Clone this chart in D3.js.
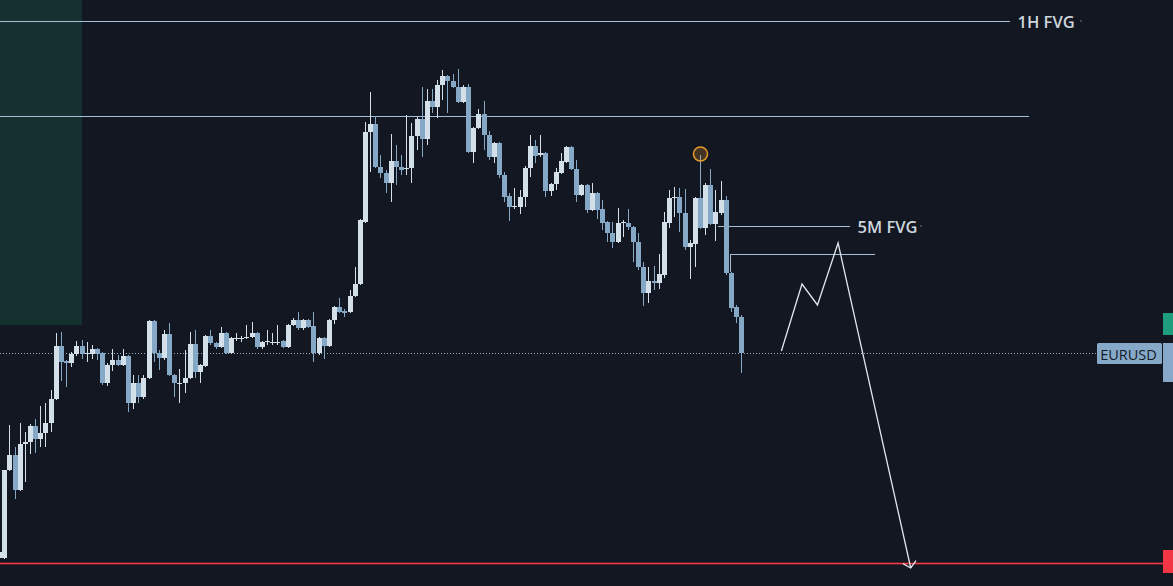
<!DOCTYPE html>
<html><head><meta charset="utf-8">
<script src="https://cdn.jsdelivr.net/npm/d3@7/dist/d3.min.js"></script>
<style>html,body{margin:0;padding:0;background:#131722;overflow:hidden}svg{display:block}</style>
</head><body><svg id="chart" width="1173" height="586"></svg>
<script>
// ---------- data (EURUSD candles) ----------
const opens = [
1.08442,1.08442,1.08530,1.08545,1.08510,1.08556,1.08558,1.08574,1.08561,1.08567,
1.08577,1.08601,1.08654,1.08639,1.08637,1.08646,1.08654,1.08647,1.08646,1.08651,
1.08647,1.08617,1.08635,1.08640,1.08635,1.08644,1.08597,1.08617,1.08603,1.08622,
1.08679,1.08647,1.08642,1.08666,1.08625,1.08617,1.08617,1.08622,1.08656,1.08628,
1.08634,1.08664,1.08657,1.08653,1.08667,1.08647,1.08662,1.08662,1.08662,1.08663,
1.08667,1.08653,1.08659,1.08658,1.08658,1.08659,1.08653,1.08675,1.08680,1.08672,
1.08680,1.08674,1.08647,1.08662,1.08654,1.08680,1.08693,1.08689,1.08688,1.08704,
1.08716,1.08778,1.08868,1.08876,1.08833,1.08827,1.08817,1.08839,1.08833,1.08831,
1.08832,1.08864,1.08881,1.08861,1.08899,1.08893,1.08915,1.08924,1.08919,1.08913,
1.08898,1.08913,1.08848,1.08872,1.08886,1.08865,1.08843,1.08857,1.08825,1.08804,
1.08793,1.08793,1.08803,1.08832,1.08854,1.08845,1.08847,1.08809,1.08816,1.08827,
1.08838,1.08853,1.08831,1.08805,1.08815,1.08790,1.08807,1.08791,1.08778,1.08767,
1.08758,1.08777,1.08777,1.08773,1.08758,1.08733,1.08707,1.08719,1.08717,1.08725,
1.08777,1.08802,1.08803,1.08787,1.08753,1.08756,1.08802,1.08772,1.08815,1.08776,
1.08787,1.08800,1.08727,1.08693,1.08683];
const highs = [
1.08450,1.08530,1.08575,1.08553,1.08577,1.08568,1.08576,1.08581,1.08594,1.08597,
1.08610,1.08667,1.08668,1.08640,1.08648,1.08659,1.08660,1.08658,1.08655,1.08652,
1.08648,1.08637,1.08651,1.08645,1.08651,1.08645,1.08625,1.08625,1.08625,1.08680,
1.08680,1.08650,1.08670,1.08677,1.08626,1.08631,1.08650,1.08668,1.08670,1.08636,
1.08665,1.08670,1.08658,1.08673,1.08668,1.08663,1.08667,1.08664,1.08675,1.08678,
1.08668,1.08659,1.08670,1.08667,1.08675,1.08660,1.08676,1.08682,1.08688,1.08681,
1.08681,1.08688,1.08663,1.08663,1.08681,1.08694,1.08702,1.08691,1.08710,1.08733,
1.08781,1.08878,1.08908,1.08884,1.08845,1.08830,1.08866,1.08855,1.08845,1.08885,
1.08877,1.08883,1.08913,1.08911,1.08911,1.08920,1.08930,1.08925,1.08926,1.08931,
1.08915,1.08916,1.08873,1.08891,1.08899,1.08869,1.08858,1.08858,1.08828,1.08807,
1.08812,1.08810,1.08834,1.08865,1.08860,1.08865,1.08848,1.08817,1.08832,1.08847,
1.08854,1.08854,1.08840,1.08816,1.08816,1.08817,1.08808,1.08800,1.08779,1.08778,
1.08792,1.08780,1.08791,1.08774,1.08767,1.08738,1.08733,1.08734,1.08746,1.08788,
1.08810,1.08813,1.08812,1.08811,1.08760,1.08803,1.08845,1.08817,1.08831,1.08810,
1.08819,1.08804,1.08728,1.08695,1.08685];
const lows = [
1.08440,1.08441,1.08529,1.08501,1.08509,1.08518,1.08546,1.08547,1.08553,1.08553,
1.08568,1.08600,1.08619,1.08613,1.08633,1.08644,1.08641,1.08638,1.08641,1.08640,
1.08615,1.08614,1.08629,1.08634,1.08634,1.08588,1.08591,1.08597,1.08601,1.08621,
1.08638,1.08630,1.08640,1.08624,1.08603,1.08597,1.08607,1.08621,1.08622,1.08617,
1.08633,1.08655,1.08651,1.08652,1.08646,1.08646,1.08659,1.08658,1.08661,1.08662,
1.08651,1.08651,1.08655,1.08655,1.08655,1.08652,1.08652,1.08674,1.08670,1.08670,
1.08672,1.08638,1.08645,1.08641,1.08653,1.08676,1.08687,1.08683,1.08687,1.08703,
1.08715,1.08777,1.08828,1.08832,1.08822,1.08807,1.08798,1.08815,1.08825,1.08825,
1.08817,1.08850,1.08843,1.08855,1.08887,1.08882,1.08900,1.08887,1.08912,1.08897,
1.08897,1.08847,1.08837,1.08871,1.08850,1.08840,1.08837,1.08822,1.08798,1.08779,
1.08791,1.08786,1.08793,1.08823,1.08837,1.08843,1.08803,1.08804,1.08810,1.08826,
1.08837,1.08830,1.08798,1.08804,1.08787,1.08789,1.08781,1.08770,1.08758,1.08752,
1.08757,1.08763,1.08770,1.08738,1.08730,1.08694,1.08697,1.08710,1.08711,1.08722,
1.08772,1.08783,1.08768,1.08750,1.08721,1.08733,1.08771,1.08765,1.08775,1.08759,
1.08785,1.08725,1.08688,1.08677,1.08627];
const closes = [
1.08448,1.08530,1.08545,1.08510,1.08556,1.08558,1.08574,1.08561,1.08567,1.08577,
1.08601,1.08654,1.08638,1.08637,1.08646,1.08654,1.08646,1.08647,1.08651,1.08646,
1.08617,1.08635,1.08640,1.08635,1.08644,1.08597,1.08617,1.08603,1.08622,1.08679,
1.08647,1.08642,1.08666,1.08625,1.08617,1.08617,1.08622,1.08656,1.08628,1.08635,
1.08664,1.08657,1.08653,1.08667,1.08647,1.08662,1.08662,1.08662,1.08663,1.08667,
1.08653,1.08658,1.08659,1.08658,1.08658,1.08653,1.08675,1.08680,1.08672,1.08680,
1.08673,1.08647,1.08662,1.08654,1.08680,1.08693,1.08688,1.08687,1.08704,1.08716,
1.08780,1.08868,1.08876,1.08833,1.08827,1.08817,1.08839,1.08833,1.08830,1.08832,
1.08864,1.08881,1.08861,1.08899,1.08893,1.08915,1.08924,1.08919,1.08913,1.08898,
1.08913,1.08848,1.08872,1.08886,1.08865,1.08843,1.08857,1.08825,1.08803,1.08793,
1.08794,1.08803,1.08832,1.08854,1.08844,1.08847,1.08809,1.08816,1.08828,1.08839,
1.08853,1.08831,1.08805,1.08815,1.08790,1.08807,1.08790,1.08777,1.08767,1.08758,
1.08777,1.08778,1.08773,1.08758,1.08733,1.08707,1.08719,1.08717,1.08726,1.08778,
1.08802,1.08803,1.08787,1.08753,1.08757,1.08802,1.08772,1.08815,1.08776,1.08788,
1.08800,1.08727,1.08692,1.08683,1.08647];

const symbol = "EURUSD";
const lastPrice = 1.08647;
const levelLabels = ["1H FVG", "", "5M FVG", ""];
const levelPrices = [1.08979, 1.08884, 1.08774, 1.08746];
const targetPrice = 1.08437;
const zoneTop = 1.09000, zoneBottom = 1.08675, zoneEndIndex = 16;
const swingHighIndex = 136, swingHighPrice = 1.08846;
const projIndex = [151.7, 155.7, 158.7, 162.7, 176.8];
const projPrice = [1.08649, 1.08716, 1.08695, 1.08757, 1.08432];

// ---------- layout ----------
const W = 1173, H = 586;
const svg = d3.select("#chart");
const x = d3.scaleLinear().domain([0, 144]).range([-0.45, 741.7]);
const y = d3.scaleLinear().domain([1.08414, 1.09000]).range([H, 0]);
const BULL = "#d3e0e9", BEAR = "#86a8c7", LINE = "#a6bed6";

svg.append("rect").attr("width", W).attr("height", H).attr("fill", "#131722");

// teal zone
svg.append("rect").attr("x", 0).attr("y", y(zoneTop))
  .attr("width", x(zoneEndIndex)).attr("height", y(zoneBottom) - y(zoneTop))
  .attr("fill", "#15312f");

// horizontal levels
const levelEnds = [1010, 1029, 850, 875];
const levelStarts = [0, 0, 718, 730];
levelPrices.forEach((p, i) => {
  const yy = Math.round(y(p)) + 0.5;
  svg.append("line").attr("x1", levelStarts[i]).attr("x2", levelEnds[i])
    .attr("y1", yy).attr("y2", yy).attr("stroke", LINE).attr("stroke-width", 1);
  if (levelLabels[i]) {
    svg.append("text").attr("x", levelEnds[i] + 7.5).attr("y", yy)
      .attr("dominant-baseline", "central")
      .attr("font-family", "'Open Sans', sans-serif").attr("font-weight", 600)
      .attr("font-size", 16.5).attr("fill", "#cdd5dd").text(levelLabels[i]);
  }
});
// vertical tick of lower 5M FVG line
svg.append("line").attr("x1", 730.5).attr("x2", 730.5)
  .attr("y1", Math.round(y(levelPrices[3]))).attr("y2", 272)
  .attr("stroke", LINE).attr("stroke-width", 1);
// small handles after labels
[[1081, y(levelPrices[0])], [921, y(levelPrices[2])]].forEach(d => {
  svg.append("circle").attr("cx", d[0]).attr("cy", d[1]).attr("r", 1).attr("fill", "#4b5563");
});

// current price dotted line
const ly = Math.round(y(lastPrice)) + 0.5;
svg.append("line").attr("x1", 0).attr("x2", 1097).attr("y1", ly).attr("y2", ly)
  .attr("stroke", "#9db3c8").attr("stroke-width", 1).attr("stroke-dasharray", "1,2");

// target red line
const ty = Math.round(y(targetPrice)) + 0.5;
svg.append("line").attr("x1", 0).attr("x2", 1163).attr("y1", ty).attr("y2", ty)
  .attr("stroke", "#5c1c26").attr("stroke-width", 3);
svg.append("line").attr("x1", 0).attr("x2", 1163).attr("y1", ty).attr("y2", ty)
  .attr("stroke", "#f0404d").attr("stroke-width", 1);

// candles
const idx = d3.range(opens.length);
const g = svg.append("g").attr("shape-rendering", "crispEdges");
idx.forEach(i => {
  const up = closes[i] >= opens[i];
  const col = up ? BULL : BEAR;
  const left = Math.round(x(i) - 2.5);
  g.append("line").attr("x1", left + 2.5).attr("x2", left + 2.5)
    .attr("y1", y(highs[i])).attr("y2", y(lows[i])).attr("stroke", col).attr("stroke-width", 1);
  const top = Math.min(y(opens[i]), y(closes[i]));
  const h = Math.max(1, Math.abs(y(opens[i]) - y(closes[i])));
  g.append("rect").attr("x", left).attr("y", top).attr("width", 5).attr("height", h).attr("fill", col);
});

// swing high marker
svg.append("circle").attr("cx", x(swingHighIndex)).attr("cy", y(swingHighPrice)).attr("r", 7)
  .attr("fill", "rgba(240,160,40,0.22)").attr("stroke", "#e79a2a").attr("stroke-width", 1.5);

// projection path
const line = d3.line().x(d => x(d[0])).y(d => y(d[1]));
const pts = projIndex.map((d, i) => [d, projPrice[i]]);
svg.append("path").attr("d", line(pts)).attr("fill", "none")
  .attr("stroke", "#e3e7ec").attr("stroke-width", 1.3).attr("stroke-linejoin", "miter");
const tip = [x(projIndex[4]), y(projPrice[4])];
const prev = [x(projIndex[3]), y(projPrice[3])];
const ang = Math.atan2(prev[1] - tip[1], prev[0] - tip[0]);
const arm = 9, spread = 48 * Math.PI / 180;
const a1 = [tip[0] + arm * Math.cos(ang - spread), tip[1] + arm * Math.sin(ang - spread)];
const a2 = [tip[0] + arm * Math.cos(ang + spread), tip[1] + arm * Math.sin(ang + spread)];
svg.append("path").attr("d", `M${a1[0]},${a1[1]}L${tip[0]},${tip[1]}L${a2[0]},${a2[1]}`)
  .attr("fill", "none").attr("stroke", "#e3e7ec").attr("stroke-width", 1.3);

// right-side price scale marks
svg.append("rect").attr("x", 1163).attr("y", 313).attr("width", 10).attr("height", 22).attr("fill", "#1f9e7e");
svg.append("rect").attr("x", 1163).attr("y", 343).attr("width", 10).attr("height", 39).attr("fill", "#87a9c9");
svg.append("rect").attr("x", 1163).attr("y", 550).attr("width", 10).attr("height", 23).attr("fill", "#f23645");

// symbol label
svg.append("rect").attr("x", 1097).attr("y", ly - 10.5).attr("width", 65).attr("height", 21)
  .attr("rx", 1.5).attr("fill", "#87a9c9");
svg.append("text").attr("x", 1128.5).attr("y", ly + 0.5).attr("text-anchor", "middle")
  .attr("dominant-baseline", "central").attr("font-family", "'Open Sans', sans-serif")
  .attr("font-size", 14.5).attr("fill", "#131a26").text(symbol);
</script>
</body></html>
